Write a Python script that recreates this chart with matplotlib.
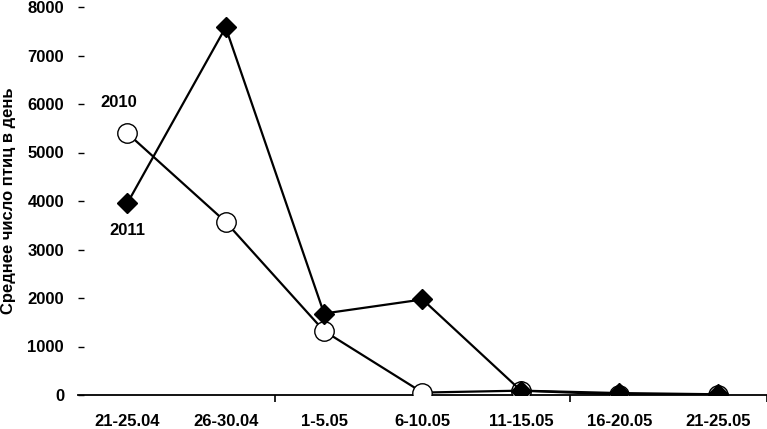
import numpy as np
import matplotlib.pyplot as plt

#%% Data
periods = ['21-25.04', '26-30.04', '1-5.05', '6-10.05', '11-15.05', '16-20.05', '21-25.05']
birds_2010 = [5400, 3570, 1320, 50, 90, 10, 5]
birds_2011 = [3950, 7580, 1680, 1970, 90, 40, 15]
yticks = [0, 1000, 2000, 3000, 4000, 5000, 6000, 7000, 8000]

plt.rcParams['font.family'] = ['Liberation Sans', 'DejaVu Sans']
plt.rcParams['font.weight'] = 'bold'

#%% Plot
fig = plt.figure(figsize=(7.67, 4.29), dpi=100)
ax = fig.add_axes([78/767, 34/429, 689/767, 388/429])

x = np.arange(len(periods))
ax.plot(x, birds_2010, '-', color='black', lw=1.6, marker='o', ms=14,
        mfc='white', mec='black', mew=1.0, zorder=3)
ax.plot(x, birds_2011, '-', color='black', lw=1.6, marker='D', ms=10,
        mfc='black', mec='black', zorder=4)

ax.text(-0.09, 6040, '2010', ha='center', va='center', fontsize=12, fontweight='bold')
ax.text(0.0, 3400, '2011', ha='center', va='center', fontsize=12, fontweight='bold')

ax.set_xlim(-0.5, 6.5)
ax.set_ylim(0, 8000)
for s in ['top', 'right', 'left']:
    ax.spines[s].set_visible(False)
ax.spines['bottom'].set_linewidth(1.3)

ax.set_xticks(x)
ax.set_xticklabels(periods, fontsize=12, fontweight='bold')
ax.tick_params(axis='x', which='major', length=0, pad=14)
ax.set_xticks([1.5, 4.5, 6.5], minor=True)
ax.tick_params(axis='x', which='minor', length=5, width=1.2, direction='out')

ax.set_yticks(yticks)
ax.set_yticklabels([str(v) for v in yticks], fontsize=12, fontweight='bold')
ax.tick_params(axis='y', length=4, width=1, direction='in', pad=10)
ax.set_ylabel('Среднее число птиц в день', fontsize=12, fontweight='bold', labelpad=8)

plt.savefig('out.png', dpi=100)
